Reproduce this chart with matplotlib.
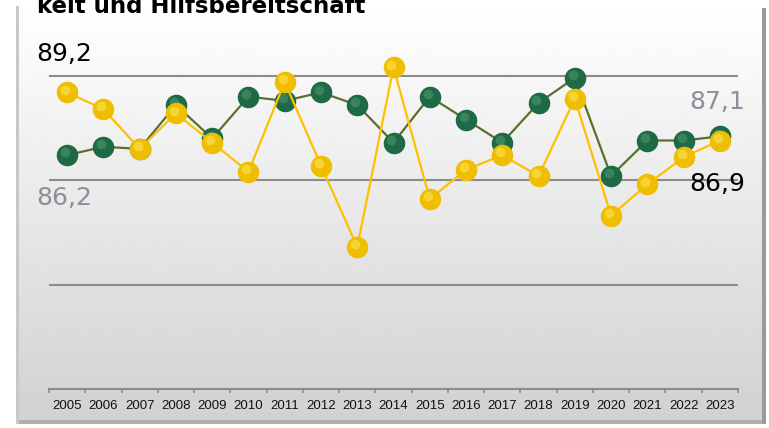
import numpy as np
import matplotlib
matplotlib.use("Agg")
import matplotlib.pyplot as plt
from matplotlib.patches import Rectangle
from matplotlib.transforms import offset_copy

# Daten
jahre = ["2005", "2006", "2007", "2008", "2009", "2010", "2011", "2012", "2013", "2014",
         "2015", "2016", "2017", "2018", "2019", "2020", "2021", "2022", "2023"]
gruen = [86.2, 86.6, 86.5, 88.6, 87.0, 89.0, 88.8, 89.2, 88.6, 86.8,
         89.0, 87.9, 86.8, 88.7, 89.9, 85.2, 86.9, 86.9, 87.1]
gelb = [89.2, 88.4, 86.5, 88.2, 86.8, 85.4, 89.7, 85.7, 81.8, 90.4,
        84.1, 85.5, 86.2, 85.2, 88.9, 83.3, 84.8, 86.1, 86.9]
titel = "keit und Hilfsbereitschaft"

W, H = 769, 428
fig = plt.figure(figsize=(W / 100, H / 100), dpi=100)

# Hintergrund-Panel mit Verlauf
bg = fig.add_axes([0, 0, 1, 1])
bg.set_xlim(0, W)
bg.set_ylim(H, 0)
bg.axis("off")
grad = np.linspace(1.0, 0.82, 256).reshape(-1, 1)
bg.imshow(grad, cmap="gray", vmin=0, vmax=1, extent=[19, 762, 423, 5], aspect="auto")
bg.add_patch(Rectangle((762, 8), 4, 416, color="#9a9a9a", lw=0))
bg.add_patch(Rectangle((16, 6), 3, 418, color="#c8c8c8", lw=0))
bg.add_patch(Rectangle((19, 420), 743, 4, color="#b0b0b0", lw=0))

ax = fig.add_axes([49 / W, (H - 389) / H, 689 / W, 355 / H])
ax.patch.set_alpha(0)
x = np.arange(len(jahre))
ax.set_xlim(-0.5, len(jahre) - 0.5)
ax.set_ylim(75, 92)

for v in [80, 85, 90]:
    ax.axhline(v, color="#8c8c8c", lw=1.5, zorder=1)

def kugel(yvals, farbe, hell, linie, z):
    ax.plot(x, yvals, color=linie, lw=1.6, zorder=z)
    ax.plot(x, yvals, "o", ms=14.5, color=farbe, mec=farbe, zorder=z + 1)
    tr = offset_copy(ax.transData, fig=fig, x=-1.5, y=2, units="points")
    ax.plot(x, yvals, "o", ms=7, color=hell, mec="none", alpha=0.45, transform=tr, zorder=z + 2)

kugel(gruen, "#1f6a46", "#5aa57a", "#5c6e2b", 3)
kugel(gelb, "#f0be00", "#fff07a", "#ffc000", 6)

# Beschriftungen Anfang/Ende
ax.annotate("89,2", (0, gelb[0]), xytext=(-22, 28), textcoords="offset points",
            fontsize=18, color="black", ha="left", va="center")
ax.annotate("86,2", (0, gruen[0]), xytext=(-22, -31), textcoords="offset points",
            fontsize=18, color="#8a8f99", ha="left", va="center")
ax.annotate("87,1", (18, gruen[-1]), xytext=(-22, 25), textcoords="offset points",
            fontsize=18, color="#8a8f99", ha="left", va="center")
ax.annotate("86,9", (18, gelb[-1]), xytext=(-22, -31), textcoords="offset points",
            fontsize=18, color="black", ha="left", va="center")

for s in ["top", "right", "left"]:
    ax.spines[s].set_visible(False)
ax.spines["bottom"].set_color("#8c8c8c")
ax.spines["bottom"].set_linewidth(1.5)
ax.set_yticks([])
ax.set_xticks(x)
ax.set_xticklabels(jahre, fontsize=9.5, family="Liberation Sans", color="#111111")
ax.tick_params(axis="x", length=0, pad=8)
ax.set_xticks(np.arange(len(jahre) + 1) - 0.5, minor=True)
ax.tick_params(axis="x", which="minor", length=3, width=1.2, color="#8c8c8c")

fig.text(37 / W, 1 - 13 / H, titel, fontsize=16.5, fontweight="bold",
         ha="left", va="baseline")

fig.savefig("out.png", dpi=100)
